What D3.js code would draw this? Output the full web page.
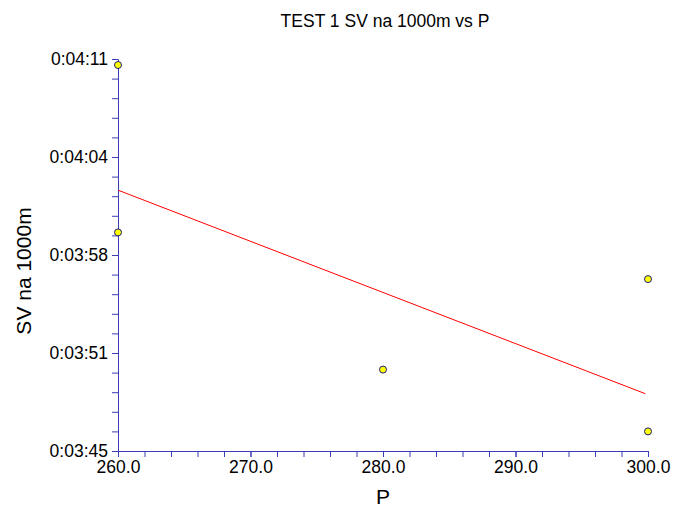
<!DOCTYPE html>
<html>
<head>
<meta charset="utf-8">
<script src="https://cdn.jsdelivr.net/npm/d3@7"></script>
<style>
  html, body { margin: 0; padding: 0; background: #fff; }
  svg { display: block; }
  text { font-family: "Liberation Sans", Arial, sans-serif; fill: #000; }
</style>
</head>
<body>
<svg id="chart" width="674" height="507"></svg>
<script>
// ---- data ----
const pValues = [260, 260, 280, 300, 300];
const svSeconds = [250.6, 239.5, 230.4, 236.4, 226.3];
const fitP = [260, 299.8];
const fitSV = [242.3, 228.8];
const xTickValues = [260, 270, 280, 290, 300];
const xTickLabels = ["260.0", "270.0", "280.0", "290.0", "300.0"];
const yTickValues = [225, 231.5, 238, 244.5, 251];
const yTickLabels = ["0:03:45", "0:03:51", "0:03:58", "0:04:04", "0:04:11"];
const titleText = "TEST 1 SV na 1000m vs P";
const xLabel = "P";
const yLabel = "SV na 1000m";

// ---- layout ----
const plotLeft = 118, plotRight = 648, plotTop = 59, plotBottom = 451;
const axisColor = "#3c3cb4";
const tickFont = "17.5px";

const svg = d3.select("#chart");
const x = d3.scaleLinear().domain([260, 300]).range([plotLeft, plotRight]);
const y = d3.scaleLinear().domain([225, 251]).range([plotBottom, plotTop]);

// minor ticks
const xMinor = d3.range(260, 300.001, 2);
const yMinor = d3.range(0, 21).map(i => 225 + i * 1.3);

// x axis
const gx = svg.append("g").attr("transform", `translate(0,${plotBottom})`);
gx.call(d3.axisBottom(x).tickValues(xMinor).tickSize(6).tickFormat(() => ""));
gx.select(".domain").attr("stroke", axisColor);
gx.selectAll(".tick line").attr("stroke", axisColor);
gx.selectAll(".tick text").remove();
const gxl = svg.append("g").attr("transform", `translate(0,${plotBottom})`);
gxl.call(d3.axisBottom(x).tickValues(xTickValues).tickSize(6)
  .tickFormat((d, i) => xTickLabels[i]).tickPadding(4));
gxl.select(".domain").remove();
gxl.selectAll(".tick line").attr("stroke", axisColor);
gxl.selectAll(".tick text").style("font-size", tickFont)
  .style("font-family", '"Liberation Sans", Arial, sans-serif').attr("fill", "#000");

// y axis
const gy = svg.append("g").attr("transform", `translate(${plotLeft},0)`);
gy.call(d3.axisLeft(y).tickValues(yMinor).tickSize(6).tickFormat(() => ""));
gy.select(".domain").attr("stroke", axisColor);
gy.selectAll(".tick line").attr("stroke", axisColor);
gy.selectAll(".tick text").remove();
const gyl = svg.append("g").attr("transform", `translate(${plotLeft},0)`);
gyl.call(d3.axisLeft(y).tickValues(yTickValues).tickSize(6)
  .tickFormat((d, i) => yTickLabels[i]).tickPadding(4));
gyl.select(".domain").remove();
gyl.selectAll(".tick line").attr("stroke", axisColor);
gyl.selectAll(".tick text").style("font-size", tickFont)
  .style("font-family", '"Liberation Sans", Arial, sans-serif').attr("fill", "#000");

// regression line
const line = d3.line().x(d => x(d[0])).y(d => y(d[1]));
svg.append("path")
  .datum(fitP.map((p, i) => [p, fitSV[i]]))
  .attr("d", line)
  .attr("fill", "none")
  .attr("stroke", "#ff0000")
  .attr("stroke-width", 1);

// points
svg.append("g").selectAll("circle")
  .data(pValues.map((p, i) => [p, svSeconds[i]]))
  .join("circle")
  .attr("cx", d => x(d[0]))
  .attr("cy", d => y(d[1]))
  .attr("r", 3.5)
  .attr("fill", "#ffff00")
  .attr("stroke", "#1c1c78")
  .attr("stroke-width", 1);

// title
svg.append("text")
  .attr("x", 385).attr("y", 27)
  .attr("text-anchor", "middle")
  .style("font-size", "17.5px")
  .text(titleText);

// axis labels
svg.append("text")
  .attr("x", 383).attr("y", 504)
  .attr("text-anchor", "middle")
  .style("font-size", "21px")
  .text(xLabel);

svg.append("text")
  .attr("transform", `translate(31,271) rotate(-90)`)
  .attr("text-anchor", "middle")
  .style("font-size", "21px")
  .text(yLabel);
</script>
</body>
</html>
